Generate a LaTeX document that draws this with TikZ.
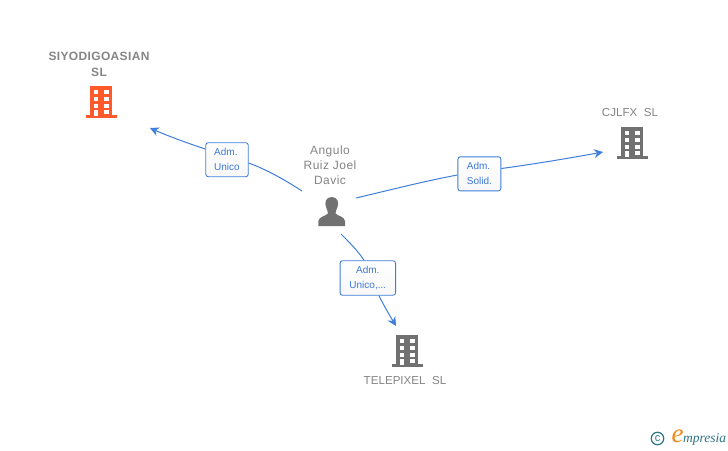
\documentclass[tikz,border=0pt]{standalone}
\usepackage{fontspec}
\setmainfont{Liberation Sans}
\newfontfamily\logofont{Liberation Serif}
\usetikzlibrary{arrows.meta}
\definecolor{edgeblue}{HTML}{3F7FDB}
\definecolor{labelblue}{HTML}{3C78D8}
\definecolor{grayicon}{HTML}{717171}
\definecolor{graytext}{HTML}{858585}
\definecolor{orangeicon}{HTML}{FF5A2B}
\definecolor{logoteal}{HTML}{2F7488}
\definecolor{logoorange}{HTML}{F08A1D}
\tikzset{
  x=1pt,y=-1pt,
  conn/.style={draw=edgeblue,line width=1pt},
  arrowed/.style={conn,-{Stealth[length=9pt,width=9pt,inset=3pt]}},
  rolebox/.style={draw=edgeblue,line width=0.9pt,rounded corners=2.5pt,top color=white,bottom color=white!97!black,inner sep=0pt,text=labelblue,font=\fontsize{10}{15}\selectfont},
  nametext/.style={text=graytext,align=center,inner sep=0pt,font=\fontsize{11.6}{15}\selectfont},
  pics/building/.style={code={
    \fill[#1] (-11,0) rectangle (11,30);
    \fill[#1] (-15.5,29) rectangle (15.5,32);
    \foreach \yy in {4.3,11,17.7}{
      \fill[white] (-7,\yy) rectangle (-3,\yy+4);
      \fill[white] (3,\yy) rectangle (7.5,\yy+4);
    }
    \fill[white] (3,24.2) rectangle (7.5,28);
    \fill[white] (-7,24.2) rectangle (-3,30);
  }},
}
\begin{document}
\begin{tikzpicture}
\useasboundingbox[fill=white] (0,0) rectangle (728,450);
% icons
\pic at (101,86) {building=orangeicon};
\pic at (632,127) {building=grayicon};
\pic at (407,335) {building=grayicon};
\fill[grayicon] (331.7,197) .. controls (325.5,197) and (324.5,203) .. (326,207)
  .. controls (327,210) and (328,211.5) .. (328,213.5)
  .. controls (326,216) and (319,216.5) .. (318.3,221)
  -- (318.3,226) -- (345,226) -- (345,221)
  .. controls (344.5,216.5) and (337.5,216) .. (335.5,213.5)
  .. controls (335.5,211.5) and (336.5,210) .. (337.5,207)
  .. controls (339,203) and (338,197) .. (331.7,197) -- cycle;
% names
\node[nametext,font=\fontsize{12}{15.5}\selectfont\bfseries\addfontfeature{LetterSpace=3}] (siyo) at (99,64.5) {SIYODIGOASIAN\\SL};
\node[nametext,font=\fontsize{12}{15}\selectfont\addfontfeature{LetterSpace=4}] (person) at (330,165) {Angulo\\Ruiz Joel\\Davic};
\node[nametext] (cjlfx) at (630,112.5) {CJLFX\ \ SL};
\node[nametext] (tele) at (405,381) {TELEPIXEL\ \ SL};
% labels
\node[rolebox,align=left,minimum width=42.5pt,minimum height=34pt] (r1) at (227,159.7) {Adm.\\Unico};
\node[rolebox,align=left,minimum width=43pt,minimum height=34pt] (r2) at (479.4,173.8) {Adm.\\Solid.};
\node[rolebox,align=center,minimum width=55.5pt,minimum height=34.5pt] (r3) at (367.8,278) {Adm.\\Unico,...};
% connector ends
\coordinate (p1) at (302,191);
\coordinate (p2) at (356,198);
\coordinate (p3) at (341,234);
\coordinate (t1) at (150,128);
\coordinate (t2) at (603,152);
\coordinate (t3) at (396,326);
% connectors
\draw[conn] (p1) .. controls (282,178) and (265,169) .. (r1.east |- 0,163);
\draw[arrowed] (r1.west |- 0,149) .. controls (187,143) and (168,136) .. (t1);
\draw[conn] (p2) .. controls (390,190) and (425,181) .. (r2.west |- 0,175);
\draw[arrowed] (r2.east |- 0,168.5) .. controls (535,164) and (570,158) .. (t2);
\draw[conn] (p3) .. controls (350,243) and (358,251) .. (r3.north -| 364,0);
\draw[arrowed] (r3.south -| 379,0) .. controls (384,306) and (390,316) .. (t3);
% logo
\node[draw=logoteal,line width=1.2pt,circle,minimum size=12.5pt,inner sep=0pt,text=logoteal,font=\fontsize{11}{11}\selectfont] (copy) at (657.5,438.5) {c};
\node[inner sep=0pt,text=logoorange,font=\logofont\itshape\fontsize{27}{27}\selectfont] (eletter) at (677.5,436) {e};
\node[inner sep=0pt,anchor=west,text=logoteal,font=\logofont\itshape\fontsize{13.5}{14}\selectfont] (mpresia) at (683,439) {mpresia};
\end{tikzpicture}
\end{document}
